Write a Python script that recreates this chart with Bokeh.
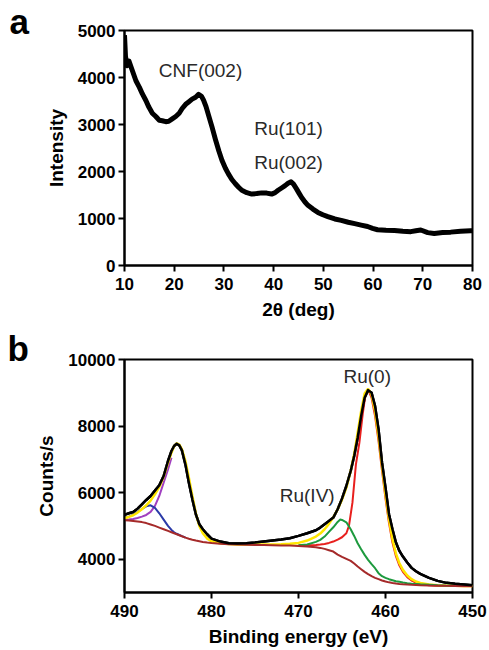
from bokeh.plotting import figure
from bokeh.layouts import column
from bokeh.models import Range1d, Label, FixedTicker
from bokeh.embed import file_html
from bokeh.resources import INLINE

# ---------------- Panel a: XRD ----------------
two_theta = [10.0, 10.2, 10.5, 10.9, 11.5, 12.3, 13.0, 13.6, 14.3, 14.9, 15.6, 16.3, 17.0, 17.6,
             18.3, 18.9, 19.6, 20.3, 21.0, 21.6, 22.3, 22.9, 23.6, 24.3, 24.9, 25.5, 25.9, 26.4,
             26.9, 27.6, 28.3, 29.0, 29.6, 30.3, 30.9, 31.6, 32.3, 33.0, 33.6, 34.6, 35.6, 36.6,
             37.6, 38.6, 39.6, 40.3, 40.9, 41.6, 42.3, 42.9, 43.5, 44.0, 44.6, 45.1, 45.6, 46.3,
             46.9, 47.9, 48.9, 49.9, 50.9, 52.3, 53.6, 55.0, 56.3, 57.6, 58.9, 59.9, 60.9, 62.6,
             64.3, 66.0, 67.6, 68.6, 69.6, 71.0, 72.3, 74.0, 75.6, 77.6, 79.6, 80.0]
intensity = [4900, 4450, 4250, 4350, 4170, 3930, 3790, 3650, 3510, 3370, 3240, 3170, 3090, 3080,
             3060, 3070, 3120, 3170, 3240, 3340, 3430, 3480, 3540, 3580, 3640, 3600, 3520, 3380,
             3200, 2950, 2680, 2430, 2240, 2070, 1950, 1830, 1740, 1660, 1600, 1550, 1520, 1530,
             1545, 1540, 1520, 1550, 1600, 1650, 1700, 1750, 1780, 1730, 1630, 1540, 1450, 1350,
             1280, 1200, 1130, 1080, 1040, 990, 960, 920, 890, 860, 830, 790, 760, 750,
             745, 730, 720, 740, 755, 700, 680, 700, 710, 730, 740, 740]
xrd_xticks = [10, 20, 30, 40, 50, 60, 70, 80]
xrd_yticks = [0, 1000, 2000, 3000, 4000, 5000]

# ---------------- Panel b: XPS ----------------
be = [490.0, 489.5, 489.0, 488.5, 488.0, 487.5, 487.0, 486.5, 486.0, 485.5, 485.0, 484.6, 484.3,
      484.0, 483.7, 483.4, 483.0, 482.6, 482.2, 481.8, 481.4, 481.0, 480.5, 480.0, 479.0, 478.0,
      477.0, 476.0, 475.0, 474.0, 473.0, 472.0, 471.0, 470.0, 469.0, 468.0, 467.5, 467.0, 466.5,
      466.0, 465.5, 465.0, 464.5, 464.0, 463.6, 463.2, 462.8, 462.4, 462.0, 461.6, 461.2, 460.8,
      460.4, 460.0, 459.6, 459.2, 458.8, 458.4, 458.0, 457.5, 457.0, 456.5, 456.0, 455.0, 454.0,
      453.0, 452.0, 451.0, 450.0]
counts_measured = [5330, 5380, 5420, 5520, 5650, 5780, 5900, 6060, 6220, 6500, 6950, 7250, 7400,
                   7470, 7420, 7270, 6850, 6300, 5800, 5350, 5050, 4900, 4750, 4620, 4530, 4480,
                   4470, 4480, 4500, 4530, 4560, 4590, 4630, 4700, 4780, 4870, 4950, 5050, 5150,
                   5250, 5500, 5820, 6200, 6650, 7100, 7650, 8300, 8850, 9080, 9000, 8600, 7900,
                   6900, 6150, 5350, 4900, 4500, 4250, 4080, 3900, 3740, 3640, 3560, 3440, 3350,
                   3290, 3260, 3240, 3220]
counts_fit = [5230, 5270, 5320, 5400, 5500, 5620, 5760, 5950, 6170, 6480, 6900, 7200, 7400,
              7480, 7440, 7300, 6950, 6450, 5900, 5380, 5000, 4780, 4620, 4540, 4480, 4455,
              4445, 4440, 4440, 4440, 4445, 4450, 4465, 4490, 4560, 4680, 4770, 4900, 5060,
              5260, 5500, 5790, 6150, 6650, 7150, 7800, 8450, 8980, 9120, 8950, 8450, 7700,
              6800, 5950, 5200, 4600, 4170, 3880, 3680, 3510, 3400, 3330, 3285, 3240, 3215,
              3205, 3200, 3197, 3195]
counts_background = [5170, 5160, 5150, 5135, 5115, 5085, 5045, 5000, 4950, 4900, 4850, 4810, 4780,
                     4750, 4720, 4690, 4650, 4615, 4585, 4560, 4540, 4520, 4500, 4485, 4465, 4450,
                     4440, 4435, 4430, 4425, 4420, 4415, 4410, 4400, 4385, 4360, 4340, 4310, 4270,
                     4230, 4140, 4070, 4010, 3950, 3870, 3780, 3700, 3620, 3550, 3490, 3440, 3400,
                     3360, 3330, 3305, 3285, 3270, 3258, 3248, 3238, 3230, 3224, 3218, 3210, 3204,
                     3200, 3197, 3195, 3193]

be_blue = [490.0, 489.5, 489.0, 488.5, 488.0, 487.5, 487.0, 486.5, 486.0, 485.5, 485.0, 484.6,
           484.3, 484.0, 483.7, 483.4, 483.0]
counts_blue = [5230, 5280, 5340, 5420, 5510, 5590, 5620, 5540, 5380, 5190, 5000, 4880,
               4810, 4765, 4728, 4694, 4652]

be_purple = [490.0, 489.5, 489.0, 488.5, 488.0, 487.5, 487.0, 486.5, 486.0, 485.5, 485.0, 484.6]
counts_purple = [5180, 5190, 5210, 5240, 5280, 5330, 5420, 5600, 5900, 6300, 6700, 7050]

be_green = [470.0, 469.0, 468.0, 467.5, 467.0, 466.5, 466.0, 465.5, 465.2, 465.0, 464.5, 464.0,
            463.6, 463.2, 462.8, 462.4, 462.0, 461.6, 461.2, 460.8, 460.4, 460.0, 459.6, 459.2,
            458.8, 458.4, 458.0, 457.5, 457.0, 456.5, 456.0, 455.0, 454.0, 453.0, 452.0, 451.0, 450.0]
counts_green = [4420, 4440, 4520, 4580, 4680, 4820, 4960, 5120, 5190, 5180, 5110, 4900,
                4700, 4480, 4300, 4130, 3980, 3850, 3730, 3580, 3490, 3440, 3400, 3370,
                3340, 3320, 3300, 3280, 3265, 3255, 3245, 3230, 3215, 3205, 3200, 3197, 3195]

be_red = [470.0, 469.0, 468.0, 467.5, 467.0, 466.5, 466.0, 465.5, 465.0, 464.5, 464.2, 463.8,
          463.4, 463.0, 462.6, 462.3, 462.0, 461.6, 461.2, 460.8, 460.4, 460.0, 459.6, 459.2,
          458.8, 458.4, 458.0, 457.5, 457.0, 456.5, 456.0, 455.0, 454.0, 453.0, 452.0, 451.0, 450.0]
counts_red = [4420, 4420, 4430, 4440, 4460, 4490, 4530, 4590, 4660, 4780, 5000, 5700,
              6850, 7500, 8400, 8950, 9100, 8850, 8300, 7550, 6660, 5820, 5090, 4500,
              4090, 3810, 3620, 3460, 3360, 3295, 3255, 3215, 3200, 3195, 3192, 3190, 3190]

xps_xticks = [490, 480, 470, 460, 450]
xps_yticks = [4000, 6000, 8000, 10000]

FONT = "Liberation Sans"
TXT = "#2a2a2a"


def style(p, xticks, yticks, letter, letter_offset, letter_standoff):
    p.xgrid.visible = False
    p.ygrid.visible = False
    p.outline_line_color = "black"
    p.outline_line_width = 2
    p.background_fill_color = "white"
    p.border_fill_color = "white"
    for ax in (p.xaxis[0], p.yaxis[0]):
        ax.axis_line_width = 2
        ax.axis_line_color = "black"
        ax.major_tick_line_width = 2
        ax.major_tick_line_color = "black"
        ax.major_tick_in = 0
        ax.major_tick_out = 6
        ax.minor_tick_line_color = None
        ax.major_label_text_font = FONT
        ax.major_label_text_font_style = "bold"
        ax.major_label_text_font_size = "17px"
        ax.major_label_text_color = "black"
        ax.axis_label_text_font = FONT
        ax.axis_label_text_font_style = "bold"
        ax.axis_label_text_font_size = "19px"
        ax.axis_label_text_color = "black"
    p.xaxis[0].ticker = FixedTicker(ticks=xticks)
    p.yaxis[0].ticker = FixedTicker(ticks=yticks)
    p.xaxis[0].major_label_standoff = 6
    p.xaxis[0].axis_label_standoff = 6
    p.yaxis[0].major_label_standoff = 3
    p.yaxis[0].axis_label_standoff = 8
    # panel letter as the figure title, pulled to the left edge
    p.title.text = letter
    p.title.align = "left"
    p.title.offset = letter_offset
    p.title.standoff = letter_standoff
    p.title.text_font = FONT
    p.title.text_font_style = "bold"
    p.title.text_font_size = "35px"
    p.title.text_color = "black"


# Panel a
pa = figure(width=489, height=330, output_backend="svg", toolbar_location=None,
            x_range=Range1d(10, 80), y_range=Range1d(0, 5000),
            min_border_left=122, min_border_right=17, min_border_top=30, min_border_bottom=65,
            x_axis_label="2θ (deg)", y_axis_label="Intensity")
style(pa, xrd_xticks, xrd_yticks, "a", -115, -21)
pa.line(two_theta, intensity, line_color="black", line_width=5, line_join="round")

for txt, x, y in [("CNF(002)", 25.3, 4150), ("Ru(101)", 43.0, 2910), ("Ru(002)", 43.0, 2185)]:
    pa.add_layout(Label(x=x, y=y, text=txt, text_align="center", text_baseline="middle",
                        text_font=FONT, text_font_size="19px", text_color=TXT))

# Panel b
pb = figure(width=489, height=320, output_backend="svg", toolbar_location=None,
            x_range=Range1d(490, 450), y_range=Range1d(3000, 10000),
            min_border_left=124, min_border_right=15, min_border_top=29, min_border_bottom=58,
            x_axis_label="Binding energy (eV)", y_axis_label="Counts/s")
style(pb, xps_xticks, xps_yticks, "b", -117, -16)
pb.line(be, counts_measured, line_color="black", line_width=2.5, line_join="round")
pb.line(be_purple, counts_purple, line_color="#a040c0", line_width=2)
pb.line(be_blue, counts_blue, line_color="#2a3aa8", line_width=2)
pb.line(be_red, counts_red, line_color="#e8201e", line_width=2)
pb.line(be, counts_fit, line_color="#ffe600", line_width=2.5)
pb.line(be_green, counts_green, line_color="#1d9a3e", line_width=2)
pb.line(be, counts_background, line_color="#a52a2a", line_width=2)
pb.line(be, counts_measured, line_color="black", line_width=2.5, line_join="round")

for txt, x, y in [("Ru(0)", 462.1, 9500), ("Ru(IV)", 469.0, 5920)]:
    pb.add_layout(Label(x=x, y=y, text=txt, text_align="center", text_baseline="middle",
                        text_font=FONT, text_font_size="19px", text_color=TXT))

layout = column(pa, pb)
open("out.html", "w").write(file_html(layout, INLINE))
